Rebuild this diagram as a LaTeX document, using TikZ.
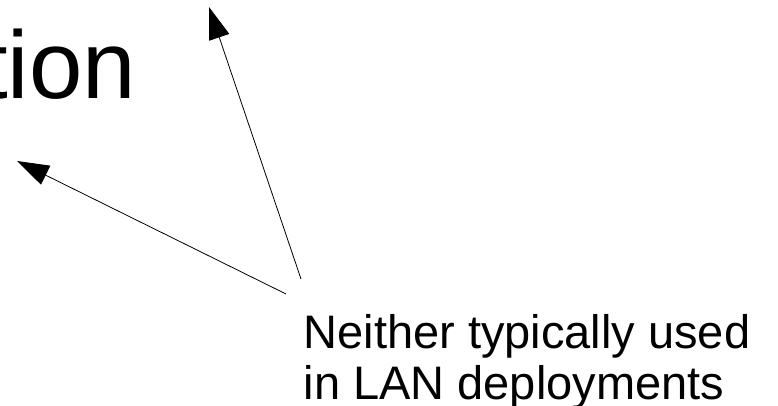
\documentclass[tikz,border=0pt]{standalone}
\usepackage{fontspec}
\setmainfont{Liberation Sans}
\usetikzlibrary{arrows.meta}
\begin{document}
\begin{tikzpicture}[x=1pt,y=-1pt,
  label/.style={inner sep=0pt, anchor=base west, text=black},
  pointer/.style={line width=0.8pt, -{Triangle[length=32pt,width=21pt]}}]
\useasboundingbox (0,0) rectangle (778,406);
\clip (0,0) rectangle (778,406);
% large heading fragment
\node[label, font=\fontsize{96}{110}\selectfont] (head) at (-19,99) {tion};
% note text
\node[label, font=\fontsize{47}{51}\selectfont] (note1) at (303.4,348) {Neither typically used};
\node[label, font=\fontsize{47}{51}\selectfont] (note2) at (303.4,399) {in LAN deployments};
% arrow ends
\coordinate (s1) at (286,294);
\coordinate (t1) at (17,161);
\coordinate (s2) at (301,279);
\coordinate (t2) at (209,7);
\draw[pointer] (s1) -- (t1);
\draw[pointer] (s2) -- (t2);
\end{tikzpicture}
\end{document}
